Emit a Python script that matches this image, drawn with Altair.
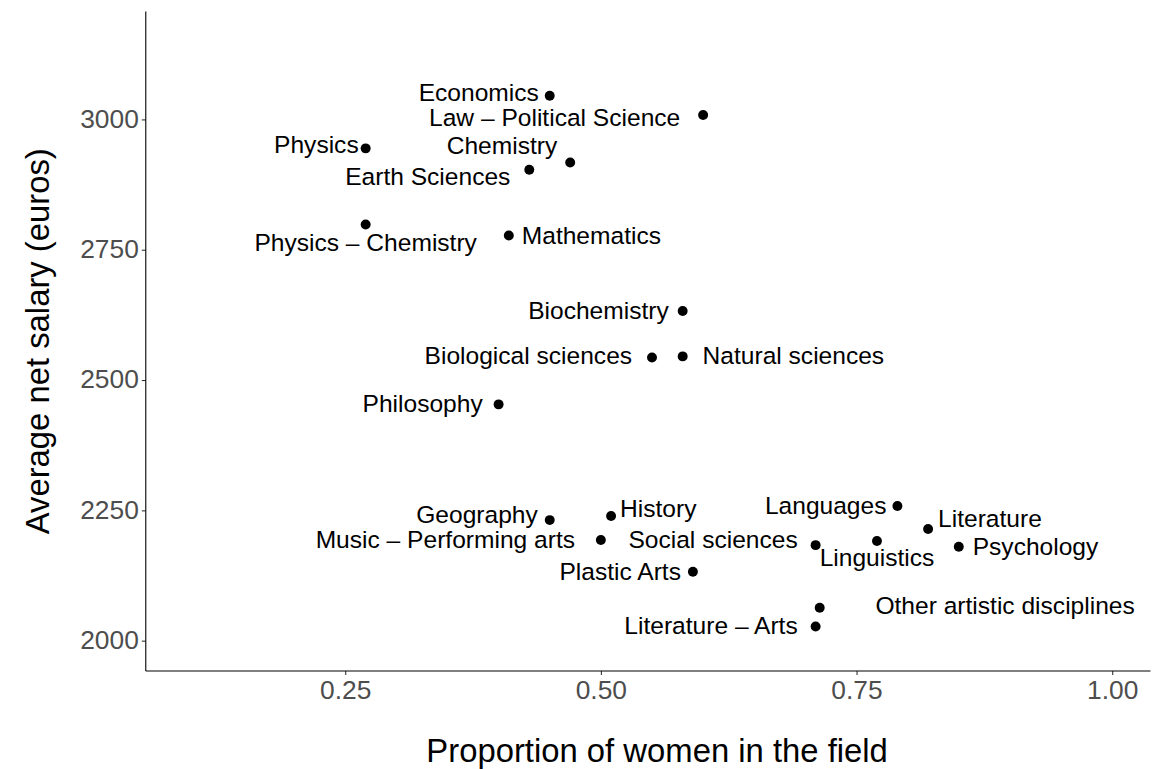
import altair as alt
import pandas as pd

names = ["Economics", "Law – Political Science", "Physics", "Chemistry", "Earth Sciences",
         "Physics – Chemistry", "Mathematics", "Biochemistry", "Biological sciences",
         "Natural sciences", "Philosophy", "Geography", "History", "Music – Performing arts",
         "Plastic Arts", "Social sciences", "Languages", "Linguistics", "Literature",
         "Psychology", "Other artistic disciplines", "Literature – Arts"]
women = [0.45, 0.60, 0.27, 0.47, 0.43, 0.27, 0.41, 0.58, 0.55, 0.58, 0.40, 0.45, 0.51,
         0.50, 0.59, 0.71, 0.79, 0.77, 0.82, 0.85, 0.714, 0.71]
salary = [3045, 3008, 2944, 2917, 2903, 2798, 2777, 2632, 2543, 2545, 2453, 2231, 2239,
          2193, 2132, 2183, 2258, 2191, 2214, 2180, 2063, 2027]
x_ticks = [0.25, 0.50, 0.75, 1.00]
y_ticks = [2000, 2250, 2500, 2750, 3000]

# label placement (style only): align, dx, dy in pixels
label_style = {
    "Economics": ("right", -11, -2),
    "Law – Political Science": ("right", -23, 4),
    "Physics": ("right", -7, -2),
    "Chemistry": ("right", -13, -15),
    "Earth Sciences": ("right", -19, 8),
    "Physics – Chemistry": ("center", 0, 20),
    "Mathematics": ("left", 13, 2),
    "Biochemistry": ("right", -14, 1),
    "Biological sciences": ("right", -20, 0),
    "Natural sciences": ("left", 20, 1),
    "Philosophy": ("right", -16, 1),
    "Geography": ("right", -12, -4),
    "History": ("left", 9, -6),
    "Music – Performing arts": ("right", -26, 1),
    "Plastic Arts": ("right", -12, 1),
    "Social sciences": ("right", -18, -4),
    "Languages": ("right", -11, 1),
    "Linguistics": ("center", 0, 18),
    "Literature": ("left", 10, -9),
    "Psychology": ("left", 14, 1),
    "Other artistic disciplines": ("left", 56, -1),
    "Literature – Arts": ("right", -18, 1),
}

df = pd.DataFrame({"field": names, "women": women, "salary": salary})

FONT = "Liberation Sans"

x_enc = alt.X("women:Q",
              scale=alt.Scale(domain=[0.0545, 1.037], nice=False, zero=False),
              axis=alt.Axis(values=x_ticks, format=".2f", title="Proportion of women in the field",
                            titlePadding=32, labelPadding=3, titleX=514, titleAlign="center"))
y_enc = alt.Y("salary:Q",
              scale=alt.Scale(domain=[1942.5, 3207.5], nice=False, zero=False),
              axis=alt.Axis(values=y_ticks, format="d", title="Average net salary (euros)",
                            titlePadding=24, labelPadding=3))

base = alt.Chart(df)
points = base.mark_circle(size=100, color="black", opacity=1).encode(x=x_enc, y=y_enc)

layers = [points]
for name in names:
    align, dx, dy = label_style[name]
    layers.append(
        base.transform_filter(alt.datum.field == name)
        .mark_text(align=align, baseline="middle", dx=dx, dy=dy, font=FONT,
                   fontSize=24.7, color="black")
        .encode(x="women:Q", y="salary:Q", text="field:N")
    )

chart = alt.layer(*layers).properties(
    width=1010, height=663,
    autosize=alt.AutoSizeParams(type="none"),
    padding={"left": 138, "top": 1, "right": 2, "bottom": 97},
).configure_view(stroke=None).configure_axis(
    grid=False,
    domainColor="black", domainWidth=1.1,
    tickColor="#333333", tickWidth=1.1, tickSize=4,
    labelColor="#4D4D4D", labelFont=FONT, labelFontSize=26.5,
    titleColor="black", titleFont=FONT, titleFontSize=33, titleFontWeight="normal",
)

chart.save("out.html", embed_options={"renderer": "svg", "actions": False})
